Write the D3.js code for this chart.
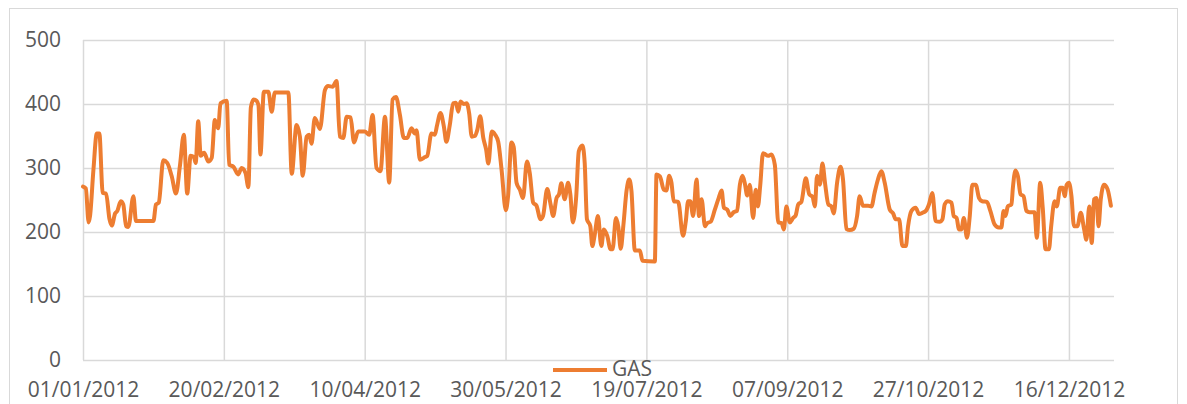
<!DOCTYPE html>
<html>
<head>
<meta charset="utf-8">
<script src="https://cdnjs.cloudflare.com/ajax/libs/d3/7.8.5/d3.min.js"></script>
<style>
    body { margin: 0; background: #fff; }
    text { font-family: "Open Sans", "Liberation Sans", sans-serif; fill: #595959; }
</style>
</head>
<body>
<div class="gas-chart"></div>
<script>
var width = 1187
var height = 404

// day offset from 01/01/2012
var days = [0, 1, 2, 2.5, 3.7, 4.9, 5.8, 7, 8.2, 9.4, 10.2, 11.4, 12.2, 13.4, 14.3, 15.3, 16.1, 17.9, 18.8, 25, 25.9, 26.9, 28.5, 29.9, 31.5, 33, 34.4, 35.8, 37, 38.2, 39.4, 40, 40.9, 41.8, 43, 44.5, 45.7, 46.8, 48, 48.8, 51, 51.9, 53.4, 55.1, 56.3, 57.7, 58.7,
    59.6, 60.6, 61.6, 62.3, 63, 64.2, 65.8, 67, 68.1, 72.9, 74.1, 75.8, 77, 78, 79.4, 80.3, 81.1, 82.3, 84.1, 85.9, 87, 88.6, 90, 91.2, 92.4, 93.6, 95, 96.2, 97.7, 100, 101.6, 102.8, 104.2, 105.6, 107.2, 108.7, 109.9, 111.1, 112.5, 113.9, 115.1, 116.6, 117.8, 118.4, 119.6,
    121.4, 122.2, 123.7, 124.9, 125.7, 126.9, 128.1, 129, 130.2, 131.4, 132.4, 133.2, 134, 135.2, 136.2, 137.1, 138, 139.1, 140, 141, 142.1, 143.1, 143.9, 145.1, 146.3, 147.4, 148.6, 150.1, 150.9, 152.1, 152.9, 153.9, 155.1, 156.2, 157.6, 158.6, 159.8, 161, 162.4, 163.3, 164.8, 166, 166.9, 168.1, 169, 169.8, 171, 172.2, 173, 173.9, 175.1, 176, 177.3, 178.1, 178.9, 180.1, 180.8,
    181.6, 182.8, 184, 184.9, 186.1, 187.3, 188, 189.2, 190, 190.9, 191.8, 193, 193.9, 194.7, 195.9, 197.7, 198.6, 203, 203.6, 204.8, 206.2, 207.1, 208.1, 208.9, 209.7, 211.3, 213, 214, 214.8, 215.6, 216.6, 217.8, 218.7, 219.6, 220.8, 221.6, 222.8, 224.3, 225.5, 226.7, 227.5, 228.7, 229.8, 231, 232.2, 233.2, 234.1, 234.9, 235.8, 236.7, 237.9, 238.8, 239.6, 240.4, 241.4,
    242, 243.2, 244.4, 245.6, 246.8, 248, 248.8, 249.7, 250.9, 252.1, 253, 253.9, 255, 256.6, 257.8, 259, 259.8, 260.6, 261.6, 262.5, 263.4, 264.6, 265.7, 266.5, 267.7, 268.9, 269.8, 271, 272.2, 273.6, 274.8, 275.7, 276.9, 278.7, 279.9, 281, 282.2, 283.4, 284.6, 286.4, 287.6, 288.5, 289.7, 290.9, 292.1, 292.9, 294.1, 295.6, 296.8, 298, 299.2, 300.3, 301.5,
    302.7, 304.1, 305.1, 305.9, 307, 308.3, 309.1, 310.1, 311, 311.8, 312.7, 313.8, 314.8, 315.7, 316.9, 318.1, 319.2, 320.9, 322.1, 323.6, 325.1, 326, 326.8, 327.5, 328.3, 329.6, 330.1, 331, 331.9, 332.8, 333.9, 334.9, 336, 337.8, 338.6, 339.8, 340.7, 341.7, 342.9, 343.7, 344.9, 345.7, 346.9, 347.8, 348.5, 349.2, 350, 350.9, 351.8, 353, 354.2, 355.4, 356.2, 357.2, 358.1, 358.9, 359.8, 360.5, 361.3, 362.5, 363.7, 364.9]

var gas = [271, 268, 215, 225, 297, 354, 354, 261, 260, 220, 210, 229, 233, 248, 243, 209, 208, 256, 217, 217, 243, 246, 312, 308, 287, 260, 303, 352, 260, 319, 317, 308, 373, 319, 324, 310, 316, 375, 362, 401, 405, 305, 302, 290, 300, 292, 270,
    395, 407, 405, 398, 321, 419, 419, 388, 418, 418, 291, 367, 349, 288, 349, 352, 338, 378, 361, 422, 428, 427, 436, 349, 347, 380, 379, 340, 357, 357, 352, 383, 300, 295, 380, 277, 407, 411, 383, 347, 347, 362, 354, 359, 313,
    317, 319, 354, 352, 367, 386, 365, 341, 367, 401, 402, 388, 404, 400, 401, 385, 349, 350, 360, 381, 347, 329, 307, 357, 352, 341, 297, 234, 256, 340, 333, 277, 266, 253, 310, 292, 246, 241, 220, 225, 267, 243, 225, 253, 259, 276, 251, 277, 259, 215, 256, 326, 335, 308, 220, 209, 178,
    194, 225, 178, 204, 194, 173, 173, 222, 209, 174, 209, 266, 282, 264, 171, 171, 155, 154, 290, 287, 266, 265, 288, 277, 248, 247, 194, 217, 248, 248, 225, 282, 225, 251, 209, 214, 216, 235, 251, 265, 238, 235, 225, 231, 233, 274, 288, 277, 257, 274, 222, 266, 240, 272, 323,
    322, 319, 321, 305, 215, 214, 204, 240, 215, 222, 226, 243, 247, 284, 259, 255, 240, 288, 274, 307, 277, 243, 240, 229, 277, 302, 282, 205, 203, 205, 225, 256, 241, 241, 240, 261, 282, 295, 277, 235, 229, 220, 220, 178, 178, 209, 233, 238, 228, 230, 233, 243, 261,
    217, 216, 220, 243, 248, 246, 225, 222, 204, 204, 222, 191, 225, 274, 274, 253, 248, 247, 233, 212, 207, 207, 233, 225, 240, 243, 269, 296, 287, 259, 256, 233, 231, 231, 191, 277, 238, 173, 173, 209, 248, 240, 269, 269, 256, 274, 277, 256, 209, 209, 230, 204, 188, 240, 183, 251, 253, 209, 251, 274, 267, 241]

var tickLabels = ['01/01/2012', '20/02/2012', '10/04/2012', '30/05/2012', '19/07/2012', '07/09/2012', '27/10/2012', '16/12/2012']
var yTicks = [0, 100, 200, 300, 400, 500]
var seriesName = 'GAS'

function gasChart() {
    var parseDate = d3.utcParse('%d/%m/%Y')
    var start = parseDate('01/01/2012')
    var end = parseDate('01/01/2013')

    var points = days.map(function (d, i) {
        return { date: new Date(start.getTime() + d * 864e5), value: gas[i] }
    })
    var tickDates = tickLabels.map(parseDate)

    var left = 83, right = 1114, top = 40, bottom = 360

    var x = d3.scaleUtc().domain([start, end]).range([left, right])
    var y = d3.scaleLinear().domain([0, 500]).range([bottom, top])

    var svg = d3.select('.gas-chart').append('svg')
        .attr('width', width)
        .attr('height', height)

    // chart frame
    svg.append('rect')
        .attr('x', 9.5).attr('y', 8.5)
        .attr('width', 1168).attr('height', 420)
        .attr('fill', 'none')
        .attr('stroke', '#d9d9d9')

    // horizontal grid
    svg.append('g')
        .attr('transform', 'translate(' + left + ',0)')
        .call(d3.axisLeft(y).tickValues(yTicks).tickSize(-(right - left)).tickFormat(''))
        .call(function (g) { g.select('.domain').remove() })
        .selectAll('line').attr('stroke', '#d9d9d9').attr('stroke-width', 1.5)

    // vertical grid
    svg.append('g')
        .attr('transform', 'translate(0,' + bottom + ')')
        .call(d3.axisBottom(x).tickValues(tickDates).tickSize(-(bottom - top)).tickFormat(''))
        .call(function (g) { g.select('.domain').remove() })
        .selectAll('line').attr('stroke', '#d9d9d9').attr('stroke-width', 1.5)

    // y labels
    svg.append('g')
        .attr('transform', 'translate(' + left + ',0)')
        .call(d3.axisLeft(y).tickValues(yTicks).tickSize(0).tickPadding(22))
        .call(function (g) { g.select('.domain').remove() })
        .selectAll('text')
        .style('font-size', '21px')
        .attr('fill', '#595959')

    // x labels
    svg.append('g')
        .attr('transform', 'translate(0,' + bottom + ')')
        .call(d3.axisBottom(x).tickValues(tickDates).tickSize(0).tickPadding(22)
            .tickFormat(function (d, i) { return tickLabels[i] }))
        .call(function (g) { g.select('.domain').remove() })
        .selectAll('text')
        .style('font-size', '21px')
        .attr('fill', '#595959')

    var line = d3.line()
        .curve(d3.curveMonotoneX)
        .x(function (d) { return x(d.date) })
        .y(function (d) { return y(d.value) })

    svg.append('path')
        .datum(points)
        .attr('d', line)
        .attr('fill', 'none')
        .attr('stroke', '#ed7d31')
        .attr('stroke-width', 4)
        .attr('stroke-linejoin', 'round')
        .attr('stroke-linecap', 'round')

    // legend (sits over the axis labels, as in the original)
    svg.append('line')
        .attr('x1', 553).attr('x2', 607)
        .attr('y1', 370).attr('y2', 370)
        .attr('stroke', '#ed7d31')
        .attr('stroke-width', 4)

    svg.append('text')
        .attr('x', 612)
        .attr('y', 376)
        .style('font-size', '21px')
        .text(seriesName)
}

gasChart()
</script>
</body>
</html>
